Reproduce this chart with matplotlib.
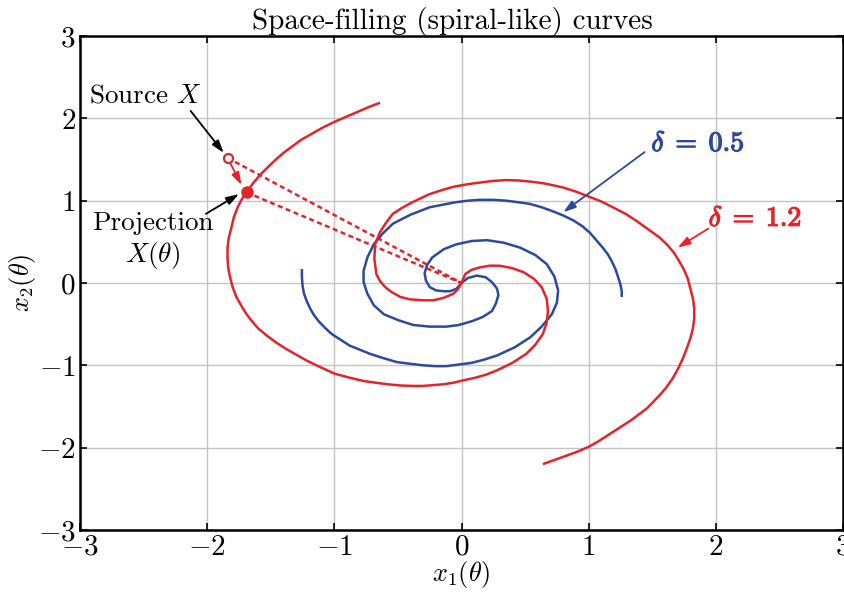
import matplotlib
matplotlib.use("Agg")
import matplotlib.pyplot as plt
import matplotlib.patheffects as pe

plt.rcParams["font.family"] = "cmr10"
plt.rcParams["mathtext.fontset"] = "cm"
plt.rcParams["axes.formatter.use_mathtext"] = True

RED = "#e4232a"
BLUE = "#2c4a9c"

# spiral arms (center -> outer end)
blue_a_x = [0.00, 0.05, 0.12, 0.19, 0.24, 0.28, 0.29, 0.27, 0.24, 0.17, 0.09, -0.02, -0.12, -0.25,
            -0.38, -0.50, -0.61, -0.69, -0.74, -0.77, -0.77, -0.74, -0.69, -0.62, -0.54, -0.40,
            -0.25, -0.05, 0.05, 0.145, 0.25, 0.35, 0.45, 0.54, 0.63, 0.72, 0.80, 0.88, 0.95, 1.01,
            1.06, 1.11, 1.15, 1.18, 1.21, 1.23, 1.25, 1.26, 1.26]
blue_a_y = [0.00, 0.06, 0.09, 0.07, 0.01, -0.07, -0.15, -0.25, -0.34, -0.41, -0.46, -0.51, -0.53, -0.53,
            -0.51, -0.45, -0.38, -0.27, -0.13, 0.01, 0.15, 0.31, 0.47, 0.60, 0.72, 0.83,
            0.92, 0.98, 1.00, 1.01, 1.01, 1.00, 0.98, 0.96, 0.92, 0.87, 0.82, 0.76, 0.69, 0.61,
            0.52, 0.43, 0.35, 0.27, 0.17, 0.08, -0.02, -0.10, -0.17]

blue_b_x = [0.00, -0.04, -0.09, -0.14, -0.20, -0.25, -0.28, -0.29, -0.27, -0.23, -0.14, -0.04, 0.08,
            0.20, 0.33, 0.46, 0.58, 0.67, 0.73, 0.76, 0.75, 0.71, 0.63, 0.54, 0.42, 0.28, 0.18, 0.08,
            -0.02, -0.12, -0.21, -0.30, -0.41, -0.51, -0.62, -0.72, -0.80, -0.88, -0.95, -1.02,
            -1.07, -1.12, -1.16, -1.19, -1.22, -1.24, -1.25, -1.255, -1.255]
blue_b_y = [0.00, -0.07, -0.10, -0.10, -0.09, -0.05, 0.03, 0.12, 0.22, 0.31, 0.41, 0.47, 0.51,
            0.52, 0.49, 0.43, 0.34, 0.23, 0.08, -0.09, -0.24, -0.38, -0.53, -0.66, -0.78, -0.88, -0.93, -0.97,
            -0.99, -1.01, -1.01, -1.00, -0.98, -0.96, -0.91, -0.86, -0.81, -0.76, -0.69, -0.62,
            -0.55, -0.47, -0.39, -0.31, -0.21, -0.12, -0.03, 0.07, 0.17]

red_p_x = [0.00, 0.03, 0.08, 0.145, 0.22, 0.30, 0.40, 0.49, 0.57, 0.63, 0.67, 0.68, 0.67, 0.64, 0.58,
           0.51, 0.40, 0.28, 0.20, 0.11, 0.02, -0.06, -0.14, -0.22, -0.30, -0.38, -0.48, -0.58,
           -0.68, -0.77, -0.88, -1.00, -1.07, -1.14, -1.22, -1.30, -1.38, -1.46, -1.53, -1.60,
           -1.65, -1.69, -1.73, -1.77, -1.80, -1.82, -1.835, -1.84, -1.84, -1.83, -1.81, -1.79,
           -1.76, -1.73, -1.69, -1.64, -1.58, -1.52, -1.46, -1.40, -1.33, -1.26, -1.18, -1.10,
           -1.01, -0.92, -0.83, -0.74, -0.64]
red_p_y = [0.00, 0.11, 0.16, 0.19, 0.21, 0.21, 0.18, 0.13, 0.05, -0.05, -0.19, -0.34, -0.48, -0.62, -0.75,
           -0.86, -0.97, -1.06, -1.11, -1.15, -1.18, -1.21, -1.23, -1.24, -1.25, -1.25, -1.245, -1.23,
           -1.21, -1.19, -1.15, -1.10, -1.05, -1.00, -0.94, -0.87, -0.80, -0.72, -0.64, -0.55,
           -0.46, -0.38, -0.28, -0.17, -0.05, 0.07, 0.19, 0.31, 0.43, 0.55, 0.67, 0.80,
           0.92, 1.01, 1.10, 1.21, 1.32, 1.41, 1.50, 1.58, 1.66, 1.74, 1.81, 1.88,
           1.95, 2.01, 2.07, 2.13, 2.19]

red_q_x = [0.00, -0.03, -0.064, -0.14, -0.22, -0.30, -0.40, -0.48, -0.55, -0.60, -0.64, -0.67, -0.685,
           -0.68, -0.64, -0.59, -0.54, -0.47, -0.40, -0.32, -0.25, -0.15, -0.06, 0.05, 0.145, 0.25,
           0.35, 0.45, 0.55, 0.65, 0.80, 0.90, 1.00, 1.10, 1.19, 1.29, 1.38, 1.47, 1.56, 1.62, 1.67,
           1.71, 1.75, 1.78, 1.80, 1.82, 1.83, 1.83, 1.82, 1.80, 1.77, 1.74, 1.70, 1.66, 1.61, 1.56,
           1.51, 1.46, 1.40, 1.34, 1.28, 1.22, 1.15, 1.08, 1.00, 0.91, 0.82, 0.73, 0.64]
red_q_y = [0.00, -0.08, -0.13, -0.18, -0.21, -0.21, -0.20, -0.17, -0.11, -0.05, 0.02, 0.11, 0.29,
           0.47, 0.62, 0.74, 0.84, 0.91, 0.97, 1.03, 1.08, 1.13, 1.17, 1.20, 1.22, 1.24,
           1.25, 1.245, 1.23, 1.21, 1.16, 1.11, 1.05, 0.99, 0.92, 0.84, 0.75, 0.65, 0.55, 0.46, 0.37,
           0.27, 0.16, 0.05, -0.07, -0.19, -0.31, -0.43, -0.55, -0.67, -0.80, -0.92, -1.05, -1.16, -1.27, -1.36,
           -1.44, -1.52, -1.59, -1.66, -1.72, -1.78, -1.85, -1.92, -1.99, -2.05, -2.10, -2.15, -2.20]

source_pt = (-1.84, 1.52)
proj_pt = (-1.69, 1.10)
ticks = [-3, -2, -1, 0, 1, 2, 3]

fig = plt.figure(figsize=(8.45, 5.93), dpi=100)
ax = fig.add_axes([80 / 845, 1 - 530 / 593, 763 / 845, 494 / 593])

ax.grid(True, color="#c4c4c4", lw=1.0)
ax.set_axisbelow(True)

# dotted lines from source / projection to the origin
for px, py in (source_pt, proj_pt):
    ax.plot([px, 0], [py, 0], color=RED, lw=1.8, ls=(0, (2.0, 1.4)), zorder=2)

line_kw = dict(lw=1.8, zorder=3, solid_joinstyle="round", solid_capstyle="butt")
ax.plot(blue_a_x, blue_a_y, color=BLUE, **line_kw)
ax.plot(blue_b_x, blue_b_y, color=BLUE, **line_kw)
ax.plot(red_p_x, red_p_y, color=RED, **line_kw)
ax.plot(red_q_x, red_q_y, color=RED, **line_kw)

ax.plot(*source_pt, "o", ms=6.5, mfc="white", mec=RED, mew=1.6, zorder=5)
ax.plot(*proj_pt, "o", ms=8, mfc=RED, mec=RED, zorder=5)

arrow_kw = dict(arrowstyle="-|>,head_length=0.75,head_width=0.24", lw=1.3, shrinkA=0, shrinkB=0)
ax.annotate("", xy=(-1.73, 1.19), xytext=(-1.82, 1.46),
            arrowprops=dict(color=RED, **arrow_kw), zorder=6)
ax.annotate("", xy=(-1.87, 1.58), xytext=(-2.13, 2.09), arrowprops=dict(color="black", **arrow_kw))
ax.annotate("", xy=(-1.75, 1.08), xytext=(-2.01, 0.84), arrowprops=dict(color="black", **arrow_kw))
ax.annotate("", xy=(0.80, 0.86), xytext=(1.44, 1.59), arrowprops=dict(color=BLUE, **arrow_kw))
ax.annotate("", xy=(1.70, 0.43), xytext=(1.94, 0.66), arrowprops=dict(color=RED, **arrow_kw))

ax.text(-2.49, 2.27, r"Source $X$", fontsize=19.5, ha="center", va="center")
ax.text(-2.43, 0.51, "Projection\n" + r"$X(\theta)$", fontsize=19.5, ha="center", va="center",
        multialignment="center", linespacing=1.25)
ax.text(1.86, 1.69, r"$\mathbf{\delta\;=\;0.5}$", fontsize=20, color=BLUE,
        ha="center", va="center", path_effects=[pe.withStroke(linewidth=0.9, foreground=BLUE)])
ax.text(2.31, 0.78, r"$\mathbf{\delta\;=\;1.2}$", fontsize=20, color=RED,
        ha="center", va="center", path_effects=[pe.withStroke(linewidth=0.9, foreground=RED)])

ax.set_xlim(-3, 3)
ax.set_ylim(-3, 3)
ax.set_xticks(ticks)
ax.set_yticks(ticks)
ax.tick_params(direction="in", length=5, width=1.2, labelsize=21, top=True, right=True, pad=3)
for s in ax.spines.values():
    s.set_linewidth(1.8)

ax.set_title("Space-filling (spiral-like) curves", fontsize=21, pad=5, x=0.488)
ax.set_xlabel(r"$x_1(\theta)$", fontsize=19, labelpad=-1)
ax.set_ylabel(r"$x_2(\theta)$", fontsize=19, labelpad=0)

fig.savefig("out.png", dpi=100)
